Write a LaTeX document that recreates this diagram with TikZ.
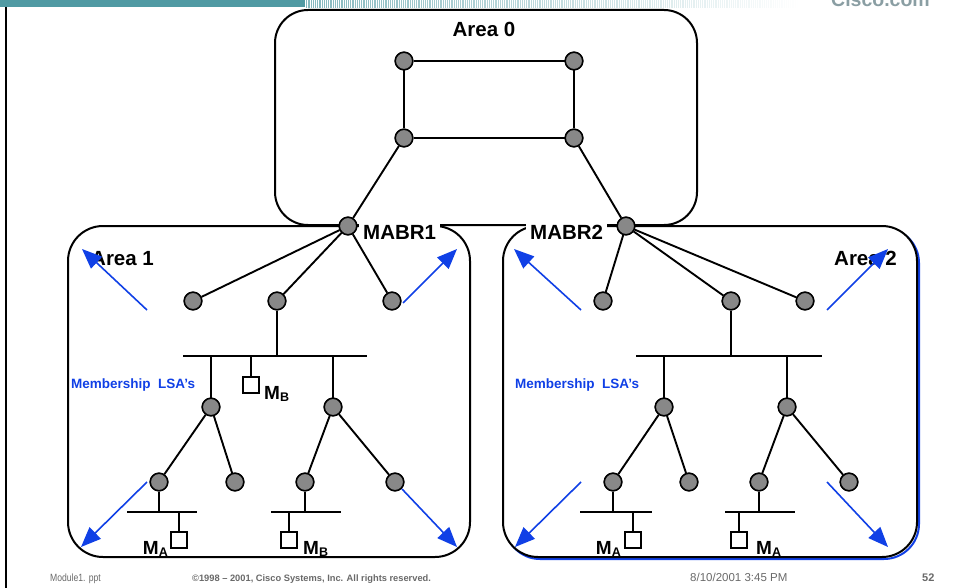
\documentclass[tikz,border=0pt]{standalone}
\usepackage{fontspec}
\setmainfont{Liberation Sans}
\usetikzlibrary{arrows.meta}
\definecolor{ciscoteal}{RGB}{80,154,163}
\definecolor{brandgray}{RGB}{138,158,163}
\definecolor{lsablue}{RGB}{16,64,230}
\definecolor{routergray}{RGB}{136,136,136}
\definecolor{footgray}{RGB}{105,105,105}
\newcommand{\subl}[1]{\raisebox{-2.5pt}{\fontsize{12.5}{12}\selectfont #1}}
\begin{document}
\begin{tikzpicture}[x=1pt,y=-1pt,
  router/.style={circle, draw=black, line width=1.5pt, fill=routergray, minimum size=17.5pt, inner sep=0pt},
  link/.style={line width=1.9pt},
  areabox/.style={line width=2pt, rounded corners=35pt},
  hostbox/.style={rectangle, draw=black, line width=1.5pt, fill=white, minimum size=16pt, inner sep=0pt},
  lsa/.style={color=lsablue, line width=1.6pt, -{Triangle[length=20pt,width=16pt]}},
  areatitle/.style={font=\bfseries\fontsize{20.5}{24}\selectfont, inner sep=0pt},
  abrtag/.style={font=\bfseries\fontsize{20.5}{24}\selectfont, fill=white, inner xsep=4pt, inner ysep=3pt},
  hosttag/.style={font=\bfseries\fontsize{19}{22}\selectfont, inner sep=0pt},
  lsatag/.style={font=\bfseries\fontsize{13.5}{16}\selectfont, text=lsablue, inner sep=0pt},
  foot/.style={inner sep=0pt, text=footgray}
]
\useasboundingbox (0,0) rectangle (957,588);

% ---- slide header band ----
\fill[ciscoteal] (0,0) rectangle (305,7);
\shade[left color=ciscoteal!70!white, right color=white] (305,0) rectangle (800,8);
\foreach \x in {305.5,307.7,...,800}
  \draw[white, line width=0.8pt] (\x,0) -- (\x,8);
\node[anchor=base east, font=\bfseries\fontsize{19.5}{20}\selectfont, text=brandgray, inner sep=0pt] (brand) at (930,7) {Cisco.com};

% ---- slide frame ----
\draw[line width=1.6pt] (6,7) -- (6,588);

% ---- areas ----
\draw[areabox, lsablue] (505,228) rectangle (919,559);
\draw[areabox, fill=white] (503,226) rectangle (917,557);
\draw[areabox] (68,226) rectangle (470,557);
\draw[areabox, rounded corners=33pt] (275,10) rectangle (697,225);

% ---- routers ----
\node[router] (a1) at (404,61) {};
\node[router] (a2) at (574,61) {};
\node[router] (a3) at (404,138) {};
\node[router] (a4) at (574,138) {};
\node[router] (m1) at (348,226) {};
\node[router] (m2) at (626,226) {};

\node[router] (p1) at (193,301) {};
\node[router] (p2) at (277,301) {};
\node[router] (p3) at (392,301) {};
\node[router] (q1) at (211,407) {};
\node[router] (q2) at (333,407) {};
\node[router] (r1) at (159,482) {};
\node[router] (r2) at (235,482) {};
\node[router] (r3) at (305,482) {};
\node[router] (r4) at (395,482) {};

\node[router] (p4) at (603,301) {};
\node[router] (p5) at (731,301) {};
\node[router] (p6) at (805,301) {};
\node[router] (q3) at (664,407) {};
\node[router] (q4) at (787,407) {};
\node[router] (r5) at (613,482) {};
\node[router] (r6) at (689,482) {};
\node[router] (r7) at (759,482) {};
\node[router] (r8) at (849,482) {};

% ---- LAN segments ----
\coordinate (lanA1w) at (183,356); \coordinate (lanA1e) at (367,356);
\coordinate (lanA2w) at (127,512); \coordinate (lanA2e) at (197,512);
\coordinate (lanA3w) at (271,512); \coordinate (lanA3e) at (341,512);
\coordinate (lanB1w) at (636,356); \coordinate (lanB1e) at (822,356);
\coordinate (lanB2w) at (580,512); \coordinate (lanB2e) at (652,512);
\coordinate (lanB3w) at (725,512); \coordinate (lanB3e) at (795,512);

\node[hostbox] (h1) at (251,385) {};
\node[hostbox] (h2) at (179,540) {};
\node[hostbox] (h3) at (289,540) {};
\node[hostbox] (h4) at (633,540) {};
\node[hostbox] (h5) at (739,540) {};

\begin{scope}[link]
  % backbone
  \draw (a1) -- (a2);
  \draw (a1) -- (a3);
  \draw (a2) -- (a4);
  \draw (a3) -- (a4);
  \draw (a3) -- (m1);
  \draw (a4) -- (m2);
  % area 1
  \draw (m1) -- (p1);
  \draw (m1) -- (p2);
  \draw (m1) -- (p3);
  \draw (lanA1w) -- (lanA1e);
  \draw (p2) -- (p2 |- lanA1w);
  \draw (q1 |- lanA1w) -- (q1);
  \draw (q2 |- lanA1w) -- (q2);
  \draw (h1 |- lanA1w) -- (h1);
  \draw (q1) -- (r1);
  \draw (q1) -- (r2);
  \draw (q2) -- (r3);
  \draw (q2) -- (r4);
  \draw (lanA2w) -- (lanA2e);
  \draw (r1) -- (r1 |- lanA2w);
  \draw (h2 |- lanA2w) -- (h2);
  \draw (lanA3w) -- (lanA3e);
  \draw (r3) -- (r3 |- lanA3w);
  \draw (h3 |- lanA3w) -- (h3);
  % area 2
  \draw (m2) -- (p4);
  \draw (m2) -- (p5);
  \draw (m2) -- (p6);
  \draw (lanB1w) -- (lanB1e);
  \draw (p5) -- (p5 |- lanB1w);
  \draw (q3 |- lanB1w) -- (q3);
  \draw (q4 |- lanB1w) -- (q4);
  \draw (q3) -- (r5);
  \draw (q3) -- (r6);
  \draw (q4) -- (r7);
  \draw (q4) -- (r8);
  \draw (lanB2w) -- (lanB2e);
  \draw (r5) -- (r5 |- lanB2w);
  \draw (h4 |- lanB2w) -- (h4);
  \draw (lanB3w) -- (lanB3e);
  \draw (r7) -- (r7 |- lanB3w);
  \draw (h5 |- lanB3w) -- (h5);
\end{scope}

% redraw routers above the links
\foreach \n in {a1,a2,a3,a4,m1,m2,p1,p2,p3,q1,q2,r1,r2,r3,r4,p4,p5,p6,q3,q4,r5,r6,r7,r8}
  \node[router] at (\n) {};

% ---- labels ----
\node[areatitle, anchor=base] (t0) at (484,37) {Area 0};
\node[areatitle, anchor=base west] (t1) at (91,265) {Area 1};
\node[areatitle, anchor=base west] (t2) at (834,265) {Area 2};
\node[abrtag, anchor=base west] (abr1) at (359,239) {MABR1};
\node[abrtag, anchor=base west] (abr2) at (526,239) {MABR2};

\node[lsatag, anchor=base west] (lsa1) at (71,388) {Membership\ \ LSA’s};
\node[lsatag, anchor=base west] (lsa2) at (515,388) {Membership\ \ LSA’s};

\node[hosttag, anchor=base west] (mb1) at (264,399) {M\subl{B}};
\node[hosttag, anchor=base east] (ma1) at (168,554) {M\subl{A}};
\node[hosttag, anchor=base west] (mb2) at (303,554) {M\subl{B}};
\node[hosttag, anchor=base east] (ma2) at (621,554) {M\subl{A}};
\node[hosttag, anchor=base west] (ma3) at (756,554) {M\subl{A}};

% ---- membership LSA flooding ----
\coordinate (f1s) at (147,310); \coordinate (f1t) at (82,249);
\coordinate (f2s) at (403,303); \coordinate (f2t) at (457,249);
\coordinate (f3s) at (147,482); \coordinate (f3t) at (81,547);
\coordinate (f4s) at (402,489); \coordinate (f4t) at (457,547);
\coordinate (f5s) at (581,310); \coordinate (f5t) at (514,249);
\coordinate (f6s) at (827,310); \coordinate (f6t) at (888,249);
\coordinate (f7s) at (581,482); \coordinate (f7t) at (515,547);
\coordinate (f8s) at (827,482); \coordinate (f8t) at (888,547);
\foreach \k in {1,...,8}
  \draw[lsa] (f\k s) -- (f\k t);

% ---- footer ----
\node[foot, anchor=base west, font=\fontsize{10.5}{10}\selectfont] (fmod) at (50,581) {\scalebox{0.82}[1]{Module1. ppt}};
\node[foot, anchor=base west, font=\bfseries\fontsize{9.3}{10}\selectfont] (fcopy) at (192,581) {©1998 – 2001, Cisco Systems, Inc. All rights reserved.};
\node[foot, anchor=base west, font=\fontsize{11.5}{12}\selectfont] (fdate) at (690,581) {8/10/2001 3:45 PM};
\node[foot, anchor=base west, font=\bfseries\fontsize{11}{12}\selectfont] (fpage) at (922,581) {52};
\end{tikzpicture}
\end{document}
